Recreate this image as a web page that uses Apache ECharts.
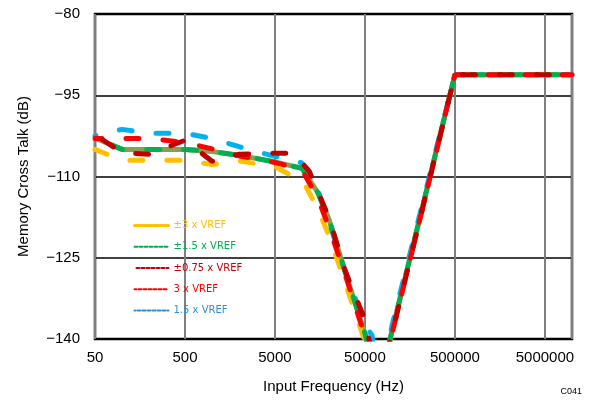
<!DOCTYPE html>
<html>
<head>
<meta charset="utf-8">
<script src="https://cdn.jsdelivr.net/npm/echarts@6/dist/echarts.min.js"></script>
<style>html,body{margin:0;padding:0;background:#fff;}#c{width:592px;height:403px;}</style>
</head>
<body>
<div id="c"></div>
<script>
// ---- data ----
const xTickLabels = ['50', '500', '5000', '50000', '500000', '5000000'];
const yMin = -140, yMax = -80, yStep = 15;
const xMin = 50, xMax = 10000000;

const freqOrange = [50, 100, 200, 500, 1000, 2000, 5000, 7000, 10000, 15000, 20000, 30000, 50000, 70000, 100000, 200000, 500000, 1000000, 10000000];
const valsOrange = [-105, -107, -107, -107, -107.8, -107.1, -108.2, -109.5, -110.5, -116, -121, -129.5, -140.5, -150, -139, -118.5, -91.2, -91.2, -91.2];

const freqGreen = [50, 100, 200, 500, 1000, 2000, 5000, 10000, 15000, 20000, 30000, 50000, 70000, 100000, 200000, 500000, 1000000, 10000000];
const valsGreen = [-102.9, -105, -105, -105, -105.4, -106.1, -107.3, -108.5, -113, -118, -127.5, -139, -150, -138.5, -118.2, -91.2, -91.2, -91.2];

const freqDarkRed = [50, 100, 200, 500, 1000, 2000, 5000, 8000, 12000, 20000, 30000, 50000, 70000, 100000, 200000, 500000, 1000000, 10000000];
const valsDarkRed = [-102.3, -105.6, -105.9, -103.3, -107.2, -105.9, -105.7, -105.7, -109, -117.7, -127.3, -136.5, -148, -139, -118.5, -91.2, -91.2, -91.2];

const freqRed = [50, 100, 200, 500, 1000, 2000, 5000, 10000, 15000, 20000, 30000, 50000, 70000, 100000, 200000, 500000, 1000000, 10000000];
const valsRed = [-103, -103, -103, -103.7, -104.9, -106.2, -107.4, -108.8, -114, -119.5, -128, -139.5, -150, -139, -118.5, -91.2, -91.2, -91.2];

const freqBlue = [50, 100, 200, 500, 1000, 2000, 5000, 10000, 15000, 20000, 30000, 40000, 50000, 60000, 70000, 100000, 200000, 500000, 1000000, 10000000];
const valsBlue = [-102.5, -101.3, -102, -102, -103, -104.5, -106.3, -107.5, -112.5, -118.5, -127.5, -133, -137.5, -139.3, -152, -137.5, -117.5, -91.2, -91.2, -91.2];

const seriesNames = ['±3 x VREF', '±1.5 x VREF', '±0.75 x VREF', '3 x VREF', '1.5 x VREF'];
const seriesColors = ['#FFC000', '#00B050', '#C00000', '#FF0000', '#00B0F0'];
const legendTextColors = ['#FFC000', '#00B050', '#C00000', '#FF0000', '#2F8FD8'];
const oliveColor = '#86A04F';

function pairs(f, v) { return f.map((x, i) => [x, v[i]]); }

const dataSets = [
  pairs(freqOrange, valsOrange),
  pairs(freqGreen, valsGreen),
  pairs(freqDarkRed, valsDarkRed),
  pairs(freqRed, valsRed),
  pairs(freqBlue, valsBlue)
];

const FONT = '"Liberation Sans", Arial, sans-serif';
const chart = echarts.init(document.getElementById('c'), null, { renderer: 'canvas' });

function dashed(idx, offset) {
  return {
    name: seriesNames[idx],
    type: 'line',
    xAxisIndex: 0,
    data: dataSets[idx],
    symbol: 'none',
    smooth: false,
    silent: true,
    animation: false,
    lineStyle: { color: seriesColors[idx], width: 5, type: [13, 24], dashOffset: offset, cap: 'round' },
    itemStyle: { color: seriesColors[idx] }
  };
}

const option = {
  animation: false,
  backgroundColor: '#fff',
  title: {
    text: 'C041', right: 5, bottom: 2,
    textStyle: { fontFamily: FONT, fontSize: 9, fontWeight: 'normal', color: '#000' }
  },
  grid: { left: 95, right: 20, top: 14, bottom: 64, show: true, borderColor: '#000', borderWidth: 2.5, backgroundColor: 'transparent' },
  legend: {
    orient: 'vertical', left: 128, top: 215,
    itemWidth: 34, itemHeight: 14, itemGap: 10,
    textStyle: { fontFamily: '"DejaVu Sans", Verdana, sans-serif', fontSize: 10 },
    data: seriesNames.map((n, i) => ({
      name: n,
      textStyle: { color: legendTextColors[i] },
      lineStyle: i === 0 ? { width: 3, type: [5, 1.5], color: seriesColors[i] } : { width: 2, type: [3, 2], color: legendTextColors[i] },
      itemStyle: { opacity: 0 }
    }))
  },
  xAxis: [
    {
      type: 'log', logBase: 10, min: xMin, max: xMax,
      show: false, splitLine: { show: false }
    },
    {
      type: 'value', min: 0, max: Math.log10(xMax / xMin), interval: 1,
      position: 'bottom',
      name: 'Input Frequency (Hz)', nameLocation: 'middle', nameGap: 40,
      nameTextStyle: { fontFamily: FONT, fontSize: 15, color: '#000' },
      axisLine: { show: false }, axisTick: { show: false },
      axisLabel: {
        fontFamily: FONT, fontSize: 15, color: '#000', margin: 11, showMaxLabel: false,
        formatter: v => { const r = Math.round(v); return Math.abs(v - r) < 1e-6 && xTickLabels[r] !== undefined ? xTickLabels[r] : ''; }
      },
      splitLine: { show: true, lineStyle: { color: '#7f7f7f', width: 2 } }
    }
  ],
  yAxis: {
    type: 'value', min: yMin, max: yMax, interval: yStep,
    name: 'Memory Cross Talk (dB)', nameLocation: 'middle', nameGap: 64, nameRotate: 90,
    nameTextStyle: { fontFamily: FONT, fontSize: 15, color: '#000' },
    axisLine: { show: false }, axisTick: { show: false },
    axisLabel: { fontFamily: FONT, fontSize: 15, color: '#000', margin: 15, formatter: v => String(v).replace('-', '\u2212') },
    splitLine: { show: true, lineStyle: { color: '#000', width: 1.5 } }
  },
  series: [
    {
      name: 'base', type: 'line', xAxisIndex: 0, data: dataSets[1], symbol: 'none', silent: true,
      lineStyle: { color: oliveColor, width: 5 }, itemStyle: { color: oliveColor }
    },
    dashed(0, 0),
    dashed(4, 12),
    dashed(1, 20),
    dashed(3, 6),
    dashed(2, 28)
  ]
};
chart.setOption(option);
</script>
</body>
</html>
